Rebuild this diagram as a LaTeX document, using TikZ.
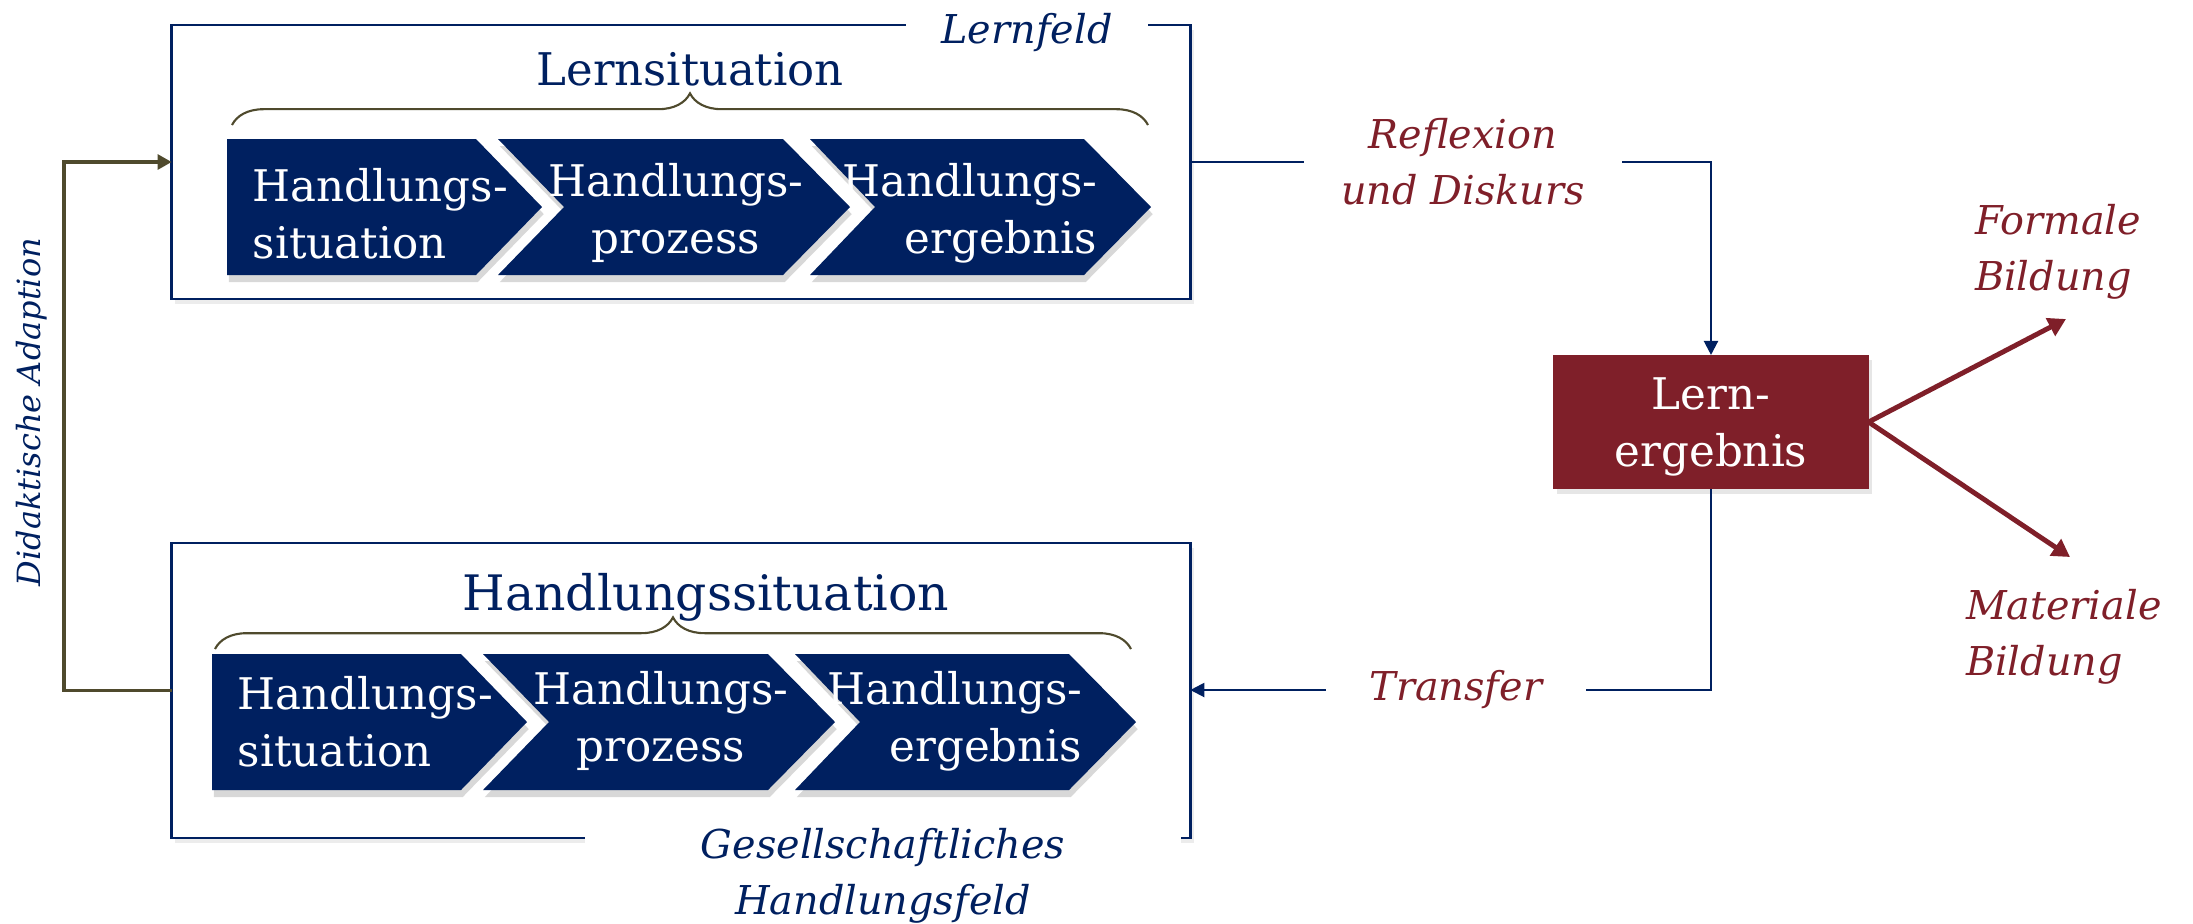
\documentclass[tikz,border=0pt]{standalone}
\usepackage{fontspec}
\setmainfont{DejaVu Serif}
\usepackage{tikz}
\usetikzlibrary{arrows.meta,decorations.pathreplacing,shadows}
\definecolor{navy}{HTML}{002060}
\definecolor{lernrot}{HTML}{7F1F29}
\definecolor{oliv}{HTML}{4F4A2D}

\begin{document}
\begin{tikzpicture}[x=0.01cm, y=-0.01cm,
	rahmen/.style={draw=navy, fill=white, line width=0.7pt, minimum width=10.18cm, inner sep=0pt, outer sep=0pt,
		drop shadow={opacity=0.15, shadow xshift=1pt, shadow yshift=-1.5pt}},
	pfeil/.style={fill=navy, drop shadow={opacity=0.3, shadow xshift=0.5pt, shadow yshift=-2pt}},
	ptext/.style={text=white, inner sep=0pt, font=\fontsize{12.4}{16.2}\selectfont},
	titel/.style={text=navy, inner sep=0pt},
	klammer/.style={draw=oliv, line width=0.6pt, decorate, decoration={brace, amplitude=9pt}},
	blabel/.style={text=navy, fill=white, inner sep=0pt, outer sep=0pt, font=\fontsize{11.3}{16}\selectfont\itshape},
	rlabel/.style={text=lernrot, inner sep=0pt, outer sep=0pt, font=\fontsize{11.3}{16}\selectfont\itshape},
	ergebnis/.style={fill=lernrot, text=white, minimum width=3.15cm, minimum height=1.34cm, align=center,
		inner sep=0pt, outer sep=0pt, font=\fontsize{12.4}{16.2}\selectfont,
		drop shadow={opacity=0.2, shadow xshift=1pt, shadow yshift=-1.5pt}},
	verb/.style={draw=navy, line width=0.6pt},
	rot/.style={draw=lernrot, line width=1.4pt, -{Triangle[length=5pt, width=5.5pt]}},
	adapt/.style={draw=oliv, line width=1pt, -{Triangle[length=4pt, width=4.2pt]}}]
	\useasboundingbox (0,0) rectangle (2193,923);

	\node[rahmen, minimum height=2.74cm] (lf) at (681,162) {};
	\node[rahmen, minimum height=2.95cm] (hf) at (681,690.5) {};
	\node[blabel, minimum width=2.41cm, minimum height=0.5cm] (lfl) at (1027,33) {Lernfeld};
	\node[blabel, minimum width=5.96cm, align=center] (gh) at (883,876) {Gesellschaftliches\\Handlungsfeld};

	\node[titel, font=\fontsize{12.8}{16}\selectfont] (ls) at (690,69) {Lernsituation};
	\node[titel, font=\fontsize{13.9}{16}\selectfont] (hs) at (706,597) {Handlungssituation};
	\draw[klammer] (232,125) -- (1148,125);
	\draw[klammer] (215,649) -- (1131,649);

	\foreach \r/\dx/\dy/\ty in {o/0/0/0, u/-15/515/-7}{
		\begin{scope}[shift={(\dx,\dy)}]
			\fill[pfeil] (227,139) -- (476,139) -- (542,207) -- (476,275) -- (227,275) -- cycle;
			\fill[pfeil] (498,139) -- (783,139) -- (850,207) -- (783,275) -- (498,275) -- (564,207) -- cycle;
			\fill[pfeil] (810,139) -- (1084,139) -- (1151,207) -- (1084,275) -- (810,275) -- (875,207) -- cycle;
			\node[ptext, anchor=west, align=left] (a\r) at (252,{214+\ty}) {Handlungs-\\situation};
			\node[ptext, align=center] (b\r) at (676,{213+\ty}) {Handlungs-\\prozess};
			\node[ptext, anchor=east, align=right] (c\r) at (1098,{213+\ty}) {Handlungs-\\ergebnis};
		\end{scope}
	}

	\node[ergebnis, text depth=-4pt] (le) at (1711,422) {Lern-\\ergebnis};
	\node[rlabel, minimum width=3.18cm, align=center] (rd) at (1463,162) {Reflexion\\und Diskurs};
	\node[rlabel, minimum width=2.6cm] (tr) at (1456,690) {Transfer};
	\node[rlabel, anchor=west, align=left] (fb) at (1975,252) {Formale\\Bildung};
	\node[rlabel, anchor=west, align=left] (mb) at (1966,637) {Materiale\\Bildung};
	\node[text=navy, inner sep=0pt, rotate=90, font=\fontsize{9.1}{12}\selectfont\itshape] (dal) at (32,412) {Didaktische Adaption};

	\draw[verb] (lf.east) -- (rd.west);
	\draw[verb, -{Triangle[length=4pt, width=4pt]}] (rd.east) -| (le.north);
	\draw[verb] (le.south) |- (tr.east);
	\draw[verb, -{Triangle[length=4pt, width=4pt]}] (tr.west) -- (tr.west -| hf.east);

	\coordinate (da) at (64,0);
	\draw[adapt] (hf.west) -- (hf.west -| da) -- (lf.west -| da) -- (lf.west);

	\coordinate (fbz) at (2066,319);
	\coordinate (mbz) at (2070,557);
	\draw[rot] (le.east) -- (fbz);
	\draw[rot] (le.east) -- (mbz);
\end{tikzpicture}
\end{document}
